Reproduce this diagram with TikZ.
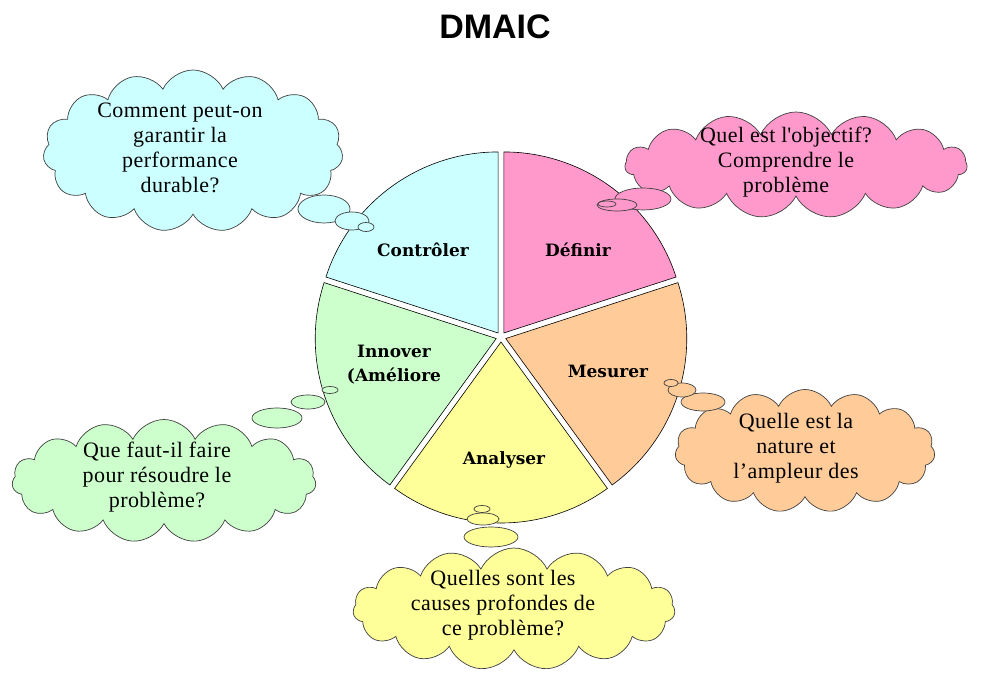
\documentclass[tikz,border=0pt]{standalone}
\usepackage{fontspec}
\setmainfont{Liberation Serif}
\newfontfamily\titlefont{Liberation Sans}
\newfontfamily\slicefont{DejaVu Serif}
\newfontfamily\cloudfont[LetterSpace=2]{Liberation Serif}
\usepackage{tikz}
\usetikzlibrary{shapes.symbols,shapes.geometric,positioning}
\definecolor{ctlcyan}{RGB}{204,255,255}
\definecolor{defpink}{RGB}{255,153,204}
\definecolor{mesorange}{RGB}{255,204,153}
\definecolor{anayellow}{RGB}{255,255,153}
\definecolor{innogreen}{RGB}{204,255,204}

\begin{document}
\begin{tikzpicture}[
        x=1pt, y=1pt,
        slice/.style={draw=black, line width=0.6pt},
        slicetext/.style={align=center, font=\slicefont\bfseries\fontsize{17}{24}\selectfont},
        thought/.style={cloud, cloud puffs=15, cloud puff arc=130, cloud ignores aspect, draw=black!75, line width=0.7pt, inner sep=0pt},
        bubble/.style={ellipse, draw=black!75, line width=0.7pt, inner sep=0pt, outer sep=0pt},
        qtext/.style={align=center, font=\cloudfont\fontsize{22}{25}\selectfont}
    ]
        \useasboundingbox[fill=white] (0,0) rectangle (990,695);
        \node[font=\titlefont\bfseries\fontsize{34}{40}\selectfont] (title) at (495,668) {DMAIC};

        \coordinate (pc) at (501,358);
        \draw[slice, fill=defpink] ([shift={(54:5)}]pc) -- ++(18:181) arc[start angle=18, end angle=90, radius=181pt] -- cycle;
        \draw[slice, fill=mesorange] ([shift={(-18:5)}]pc) -- ++(-54:181) arc[start angle=-54, end angle=18, radius=181pt] -- cycle;
        \draw[slice, fill=anayellow] ([shift={(-90:5)}]pc) -- ++(-126:181) arc[start angle=-126, end angle=-54, radius=181pt] -- cycle;
        \draw[slice, fill=innogreen] ([shift={(198:5)}]pc) -- ++(162:181) arc[start angle=162, end angle=234, radius=181pt] -- cycle;
        \draw[slice, fill=ctlcyan] ([shift={(126:5)}]pc) -- ++(90:181) arc[start angle=90, end angle=162, radius=181pt] -- cycle;

        \node[slicetext] (def) at (578,445) {Définir};
        \node[slicetext] (mes) at (608,324) {Mesurer};
        \node[slicetext] (ana) at (504,235) {Analyser};
        \node[slicetext] (inno) at (394,330) {Innover\\(Améliore};
        \node[slicetext] (ctl) at (423,445) {Contrôler};

        \node[thought, fill=ctlcyan, minimum width=300, minimum height=162] (qctl) at (193,544) {};
        \node[thought, fill=defpink, minimum width=342, minimum height=106] (qdef) at (796,530) {};
        \node[thought, fill=mesorange, minimum width=260, minimum height=123] (qmes) at (805,244) {};
        \node[thought, fill=innogreen, minimum width=304, minimum height=123] (qinno) at (164,214) {};
        \node[thought, fill=anayellow, minimum width=322, minimum height=122] (qana) at (514,86) {};

        \node[qtext] (tctl) at (180,547) {Comment peut-on\\garantir la\\performance\\durable?};
        \node[qtext] (tdef) at (786,533) {Quel est l\textquotesingle objectif?\\Comprendre le\\problème};
        \node[qtext] (tmes) at (796,247) {Quelle est la\\nature et\\l’ampleur des};
        \node[qtext] (tinno) at (157,218) {Que faut-il faire\\pour résoudre le\\problème?};
        \node[qtext] (tana) at (503,90) {Quelles sont les\\causes profondes de\\ce problème?};

        \node[bubble, fill=ctlcyan, minimum width=52, minimum height=28] (bctl1) at (324,486) {};
        \node[bubble, fill=ctlcyan, minimum width=34, minimum height=18] (bctl2) at (352,474) {};
        \node[bubble, fill=ctlcyan, minimum width=16, minimum height=9] (bctl3) at (366,468) {};

        \node[bubble, fill=defpink, minimum width=56, minimum height=22] (bdef1) at (643,496) {};
        \node[bubble, fill=defpink, minimum width=40, minimum height=12] (bdef2) at (617,490) {};
        \node[bubble, fill=defpink, minimum width=18, minimum height=6] (bdef3) at (607,491) {};

        \node[bubble, fill=mesorange, minimum width=44, minimum height=18] (bmes1) at (703,293) {};
        \node[bubble, fill=mesorange, minimum width=28, minimum height=14] (bmes2) at (682,305) {};
        \node[bubble, fill=mesorange, minimum width=14, minimum height=7] (bmes3) at (671,312) {};

        \node[bubble, fill=innogreen, minimum width=50, minimum height=20] (binno1) at (277,277) {};
        \node[bubble, fill=innogreen, minimum width=34, minimum height=14] (binno2) at (308,293) {};
        \node[bubble, fill=innogreen, minimum width=16, minimum height=7] (binno3) at (330,305) {};

        \node[bubble, fill=anayellow, minimum width=54, minimum height=20] (bana1) at (491,158) {};
        \node[bubble, fill=anayellow, minimum width=32, minimum height=12] (bana2) at (483,176) {};
        \node[bubble, fill=anayellow, minimum width=16, minimum height=7] (bana3) at (482,186) {};
    \end{tikzpicture}
\end{document}
